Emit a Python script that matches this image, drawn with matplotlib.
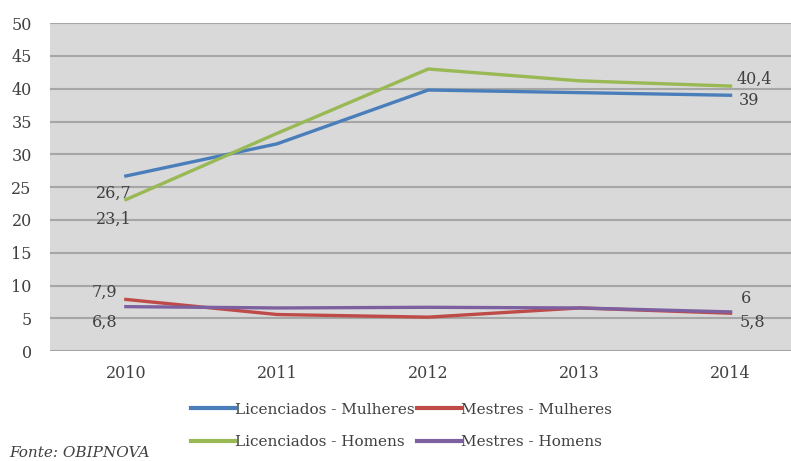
import matplotlib.pyplot as plt

years = [2010, 2011, 2012, 2013, 2014]
lic_mulheres = [26.7, 31.6, 39.8, 39.4, 39.0]
lic_homens = [23.1, 33.2, 43.0, 41.2, 40.4]
mes_mulheres = [7.9, 5.6, 5.2, 6.6, 5.8]
mes_homens = [6.8, 6.6, 6.7, 6.6, 6.0]

plt.rcParams['font.family'] = ['DejaVu Serif']

fig = plt.figure(figsize=(7.91, 4.61), dpi=100)
ax = fig.add_axes([0.063, 0.238, 0.937, 0.712])
ax.set_facecolor("#d9d9d9")

# linhas (ordem para a legenda em 2 colunas)
l1, = ax.plot(years, lic_mulheres, color="#4a7ebb", lw=2.4, label="Licenciados - Mulheres")
l3, = ax.plot(years, lic_homens, color="#98b954", lw=2.4, label="Licenciados - Homens")
l2, = ax.plot(years, mes_mulheres, color="#be4b48", lw=2.4, label="Mestres - Mulheres")
l4, = ax.plot(years, mes_homens, color="#7d60a0", lw=2.4, label="Mestres - Homens")

# rótulos dos valores
def fmt(v):
    return ("%g" % v).replace(".", ",")

lab = dict(fontsize=11.5, color="#404040", textcoords="offset pixels")
ax.annotate(fmt(lic_mulheres[0]), (years[0], lic_mulheres[0]), xytext=(-30, -22), **lab)
ax.annotate(fmt(lic_homens[0]), (years[0], lic_homens[0]), xytext=(-30, -24), **lab)
ax.annotate(fmt(mes_mulheres[0]), (years[0], mes_mulheres[0]), xytext=(-34, 3), **lab)
ax.annotate(fmt(mes_homens[0]), (years[0], mes_homens[0]), xytext=(-34, -20), **lab)
ax.annotate(fmt(lic_homens[-1]), (years[-1], lic_homens[-1]), xytext=(6, 2), **lab)
ax.annotate(fmt(lic_mulheres[-1]), (years[-1], lic_mulheres[-1]), xytext=(8, -10), **lab)
ax.annotate(fmt(mes_homens[-1]), (years[-1], mes_homens[-1]), xytext=(10, 9), **lab)
ax.annotate(fmt(mes_mulheres[-1]), (years[-1], mes_mulheres[-1]), xytext=(9, -14), **lab)

ax.set_xlim(2009.497, 2014.40)
ax.set_ylim(0, 50)
ax.set_yticks(range(0, 51, 5))
ax.set_xticks(years)
ax.grid(axis="y", color="#a6a6a6", lw=1.5)
ax.set_axisbelow(True)
for s in ax.spines.values():
    s.set_visible(False)
ax.tick_params(length=0, labelsize=11.5, colors="#404040")
ax.tick_params(axis="y", pad=13)
ax.tick_params(axis="x", pad=10)

leg = ax.legend(handles=[l1, l3, l2, l4], loc="upper left", bbox_to_anchor=(0.172, -0.115),
                ncol=2, frameon=False, fontsize=11, handlelength=2.9, handletextpad=0.0,
                columnspacing=0.1, labelspacing=1.2, labelcolor="#404040")
for h in leg.get_lines():
    h.set_linewidth(3)

fig.text(0.012, 0.008, "Fonte: OBIPNOVA", fontsize=11, style="italic", color="#404040")

plt.savefig("out.png", dpi=100)
